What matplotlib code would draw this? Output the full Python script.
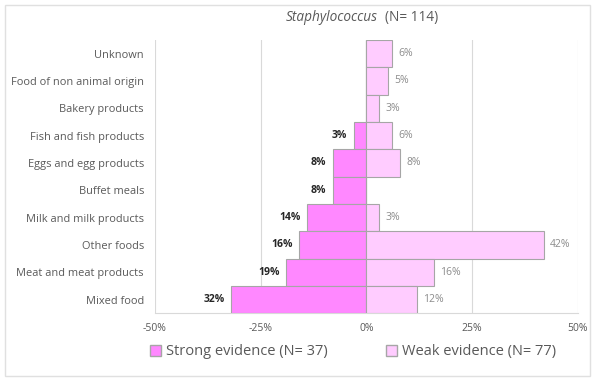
import matplotlib.pyplot as plt
from matplotlib.patches import Patch, Rectangle
import numpy as np

plt.rcParams['font.family'] = ['Open Sans', 'DejaVu Sans']

# food categories, top to bottom
categories = ['Unknown', 'Food of non animal origin', 'Bakery products',
              'Fish and fish products', 'Eggs and egg products', 'Buffet meals',
              'Milk and milk products', 'Other foods', 'Meat and meat products',
              'Mixed food']
strong = [0, 0, 0, 3, 8, 8, 14, 16, 19, 32]   # % of strong-evidence outbreaks
weak = [6, 5, 3, 6, 8, 0, 3, 42, 16, 12]      # % of weak-evidence outbreaks
xticks = [-50, -25, 0, 25, 50]
n_strong, n_weak, n_total = 37, 77, 114

c_strong = '#ff88ff'
c_weak = '#ffccff'
c_edge = '#a6a6a6'
c_text = '#595959'

fig = plt.figure(figsize=(5.95, 3.81), dpi=100)
ax = fig.add_axes([0.2605, 0.178, 0.7105, 0.717])

y = np.arange(len(categories))[::-1]
ax.barh(y, [-s for s in strong], height=1.0, color=c_strong, edgecolor=c_edge, linewidth=0.8, zorder=3)
ax.barh(y, weak, height=1.0, color=c_weak, edgecolor=c_edge, linewidth=0.8, zorder=3)

for yi, s, w in zip(y, strong, weak):
    if s > 0:
        ax.text(-s - 1.5, yi, f'{s}%', ha='right', va='center', fontsize=7.5,
                fontweight='bold', color='#262626')
    if w > 0:
        ax.text(w + 1.5, yi, f'{w}%', ha='left', va='center', fontsize=7.5,
                color='#8c8c8c')

ax.set_xlim(-50, 50)
ax.set_ylim(-0.5, len(categories) - 0.5)
ax.set_xticks(xticks)
ax.set_xticklabels([f'{t}%' for t in xticks], fontsize=7.5, color=c_text)
ax.set_yticks(y)
ax.set_yticklabels(categories, fontsize=7.9, color=c_text)
ax.tick_params(length=0, pad=7)
ax.tick_params(axis='y', pad=8)
ax.grid(axis='x', color='#d9d9d9', linewidth=0.8, zorder=0)
for side in ['top', 'right', 'left']:
    ax.spines[side].set_visible(False)
ax.spines['bottom'].set_color('#d9d9d9')

fig.text(0.635, 0.953, 'Staphylococcus', style='italic', ha='right', va='center',
         fontsize=9.8, color=c_text)
fig.text(0.647, 0.953, f'(N= {n_total})', ha='left', va='center', fontsize=9.8, color=c_text)

handles = [Patch(facecolor=c_strong, edgecolor=c_edge, label=f'Strong evidence (N= {n_strong})'),
           Patch(facecolor=c_weak, edgecolor=c_edge, label=f'Weak evidence (N= {n_weak})')]
fig.legend(handles=handles, loc='center', bbox_to_anchor=(0.593, 0.077), ncol=2,
           frameon=False, fontsize=10.5, labelcolor=c_text, handlelength=0.8,
           handleheight=0.8, handletextpad=0.3, columnspacing=4.0)

# light frame around the whole chart
fig.patches.append(Rectangle((0.008, 0.012), 0.984, 0.976, transform=fig.transFigure,
                             fill=False, edgecolor='#e0e0e0', linewidth=1))

fig.savefig('out.png', dpi=100)
